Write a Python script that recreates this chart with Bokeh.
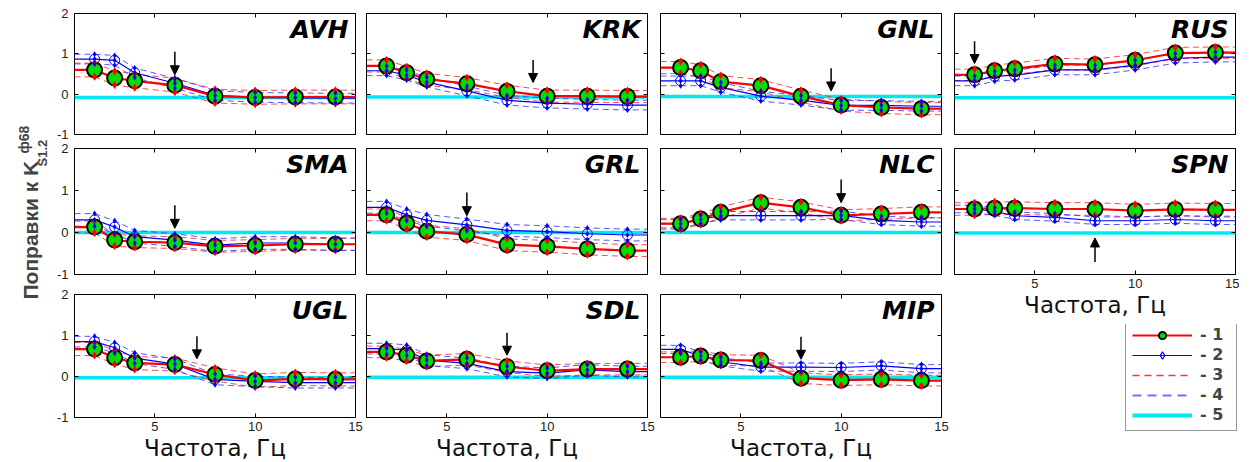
from math import pi
from bokeh.plotting import figure
from bokeh.layouts import row, column
from bokeh.models import (Range1d, FixedTicker, LinearAxis, Arrow, NormalHead,
                          Legend, LegendItem, Label, Span)
from bokeh.core.properties import value
from bokeh.embed import file_html
from bokeh.resources import INLINE

# ---------------- data ----------------
FREQ = [2, 3, 4, 6, 8, 10, 12, 14]
X_TICKS = [5, 10, 15]
X_TICK_LABELS = ["5", "10", "15"]
Y_TICKS = [-1, 0, 1, 2]
Y_TICK_LABELS = ["-1", "0", "1", "2"]
STATIONS = ["AVH", "KRK", "GNL", "RUS", "SMA", "GRL", "NLC", "SPN", "UGL", "SDL", "MIP"]

# series 1 (red line, green circles) and series 2 (blue line, open markers)
AVH_1 = [0.60, 0.40, 0.33, 0.22, -0.05, -0.08, -0.07, -0.07]
AVH_2 = [0.87, 0.84, 0.53, 0.27, -0.03, -0.08, -0.09, -0.10]
KRK_1 = [0.70, 0.53, 0.37, 0.26, 0.07, -0.05, -0.05, -0.06]
KRK_2 = [0.58, 0.47, 0.30, 0.08, -0.15, -0.22, -0.25, -0.27]
GNL_1 = [0.66, 0.58, 0.31, 0.21, -0.05, -0.27, -0.33, -0.36]
GNL_2 = [0.33, 0.33, 0.17, -0.05, -0.15, -0.28, -0.28, -0.30]
RUS_1 = [0.48, 0.58, 0.63, 0.75, 0.73, 0.84, 1.02, 1.03]
RUS_2 = [0.33, 0.44, 0.47, 0.60, 0.60, 0.72, 0.89, 0.92]
SMA_1 = [0.13, -0.18, -0.22, -0.24, -0.33, -0.31, -0.28, -0.28]
SMA_2 = [0.30, 0.13, -0.10, -0.18, -0.30, -0.25, -0.25, -0.28]
GRL_1 = [0.42, 0.22, 0.03, -0.05, -0.29, -0.33, -0.39, -0.43]
GRL_2 = [0.60, 0.42, 0.29, 0.18, 0.05, 0.02, -0.03, -0.06]
NLC_1 = [0.21, 0.32, 0.48, 0.71, 0.60, 0.41, 0.44, 0.48]
NLC_2 = [0.21, 0.31, 0.40, 0.40, 0.40, 0.41, 0.29, 0.25]
SPN_1 = [0.56, 0.58, 0.58, 0.56, 0.56, 0.52, 0.55, 0.54]
SPN_2 = [0.56, 0.50, 0.40, 0.36, 0.28, 0.28, 0.31, 0.28]
UGL_1 = [0.67, 0.46, 0.33, 0.29, 0.05, -0.10, -0.06, -0.07]
UGL_2 = [0.85, 0.70, 0.45, 0.30, -0.07, -0.12, -0.15, -0.15]
SDL_1 = [0.60, 0.52, 0.38, 0.42, 0.24, 0.14, 0.18, 0.18]
SDL_2 = [0.68, 0.64, 0.40, 0.32, 0.12, 0.08, 0.16, 0.12]
MIP_1 = [0.47, 0.50, 0.40, 0.39, -0.04, -0.09, -0.07, -0.10]
MIP_2 = [0.66, 0.50, 0.36, 0.23, 0.23, 0.22, 0.26, 0.19]

# half-widths of the dashed bands (3 = around series 1, 4 = around series 2)
ERR_1 = [0.17, 0.15, 0.15, 0.14, 0.14, 0.14, 0.13, 0.15, 0.16, 0.14, 0.13]
ERR_2 = [0.12, 0.12, 0.12, 0.12, 0.15, 0.14, 0.10, 0.09, 0.13, 0.13, 0.10]
# level of the cyan line (5)
LEVEL_5 = [-0.08, -0.07, -0.06, -0.09, 0.0, 0.0, 0.0, -0.01, -0.03, -0.02, -0.02]
# arrows: frequency, start value, end value
ARROW_X = [6, 9.3, 9.5, 2, 6, 6, 10, 8, 7.1, 8, 8]
ARROW_FROM = [1.05, 0.85, 0.64, 1.31, 0.65, 0.95, 1.26, -0.70, 0.98, 1.07, 0.97]
ARROW_TO = [0.48, 0.29, 0.08, 0.76, 0.10, 0.40, 0.71, -0.13, 0.43, 0.52, 0.42]

SERIES_1 = [AVH_1, KRK_1, GNL_1, RUS_1, SMA_1, GRL_1, NLC_1, SPN_1, UGL_1, SDL_1, MIP_1]
SERIES_2 = [AVH_2, KRK_2, GNL_2, RUS_2, SMA_2, GRL_2, NLC_2, SPN_2, UGL_2, SDL_2, MIP_2]

X_LABEL = "Частота, Гц"
LEGEND_LABELS = ["- 1", "- 2", "- 3", "- 4", "- 5"]

# ---------------- style / geometry ----------------
RED = "#ff0000"
BLUE = "#0000ff"
GREEN = "#00e000"
CYAN = "#00e8f0"
FRAME_W = 281
FRAME_H = [121, 126, 123]
B_TOP = [13, 7, 10]
B_BOT = [7, 10, 30]
B_LEFT = [22, 1, 1, 1]
B_RIGHT = [10, 12, 12, 4]
NAN = float("nan")


def add_axes(p, show_x, show_y):
    specs = [("below", True, show_x), ("above", True, False),
             ("left", False, show_y), ("right", False, False)]
    for loc, is_x, show in specs:
        ticks = X_TICKS if is_x else Y_TICKS
        labels = X_TICK_LABELS if is_x else Y_TICK_LABELS
        ax = LinearAxis(ticker=FixedTicker(ticks=ticks, minor_ticks=[]))
        ax.axis_line_color = None
        ax.major_tick_in = 4
        ax.major_tick_out = 0
        ax.major_tick_line_color = "black"
        ax.minor_tick_line_color = None
        if show:
            ax.major_label_overrides = {t: l for t, l in zip(ticks, labels)}
            ax.major_label_text_font = "Liberation Sans"
            ax.major_label_text_font_size = "13px"
            ax.major_label_text_color = "#222222"
            ax.major_label_standoff = 4 if is_x else 6
            if is_x:
                ax.axis_label = X_LABEL
                ax.axis_label_text_font = "DejaVu Sans"
                ax.axis_label_text_font_size = "23px"
                ax.axis_label_text_font_style = "normal"
                ax.axis_label_text_color = "#111111"
                ax.axis_label_standoff = 1
        else:
            ax.major_label_text_font_size = "0px"
            ax.major_label_text_color = None
            ax.major_label_standoff = 0
        p.add_layout(ax, loc)


def ext(v):
    return [v[0]] + list(v) + [v[-1]]


def make_panel(i):
    r, c = divmod(i, 4)
    name = STATIONS[i]
    s1 = SERIES_1[i]
    s2 = SERIES_2[i]
    e1 = ERR_1[i]
    e2 = ERR_2[i]
    show_x = (r == 2) or name == "SPN"
    bb = 50 if name == "SPN" else B_BOT[r]
    p = figure(frame_width=FRAME_W, frame_height=FRAME_H[r],
               x_range=Range1d(1, 15), y_range=Range1d(-1, 2),
               min_border_left=B_LEFT[c], min_border_right=B_RIGHT[c],
               min_border_top=B_TOP[r], min_border_bottom=bb,
               x_axis_location=None, y_axis_location=None,
               toolbar_location=None, output_backend="svg",
               background_fill_color="white", border_fill_color="white",
               outline_line_color="black", outline_line_width=1)
    p.grid.visible = False
    add_axes(p, show_x, c == 0)

    p.add_layout(Span(location=LEVEL_5[i], dimension="width", line_color=CYAN,
                      line_width=3.5, level="underlay"))

    xl = [1] + FREQ + [15]
    u1 = [v + e1 for v in s1]
    l1 = [v - e1 for v in s1]
    u2 = [v + e2 for v in s2]
    l2 = [v - e2 for v in s2]

    for band in (u1, l1):
        p.line(xl, ext(band), line_color="#ff2a2a", line_width=1, line_dash="6 4", line_alpha=0.85)
    for band in (u2, l2):
        p.line(xl, ext(band), line_color="#3a3aff", line_width=1, line_dash="6 4", line_alpha=0.85)

    p.line(xl, ext(s2), line_color=BLUE, line_width=1.2)
    p.scatter(FREQ, s2, marker="circle", size=10, fill_color=None,
              line_color=BLUE, line_width=1)
    p.line(xl, ext(s1), line_color=RED, line_width=2.2)
    p.scatter(FREQ, s1, marker="circle", size=15, fill_color=GREEN,
              line_color="black", line_width=2)
    p.scatter(FREQ + FREQ, u1 + l1, marker="diamond", size=8,
              fill_color=RED, line_color=None)
    p.scatter(FREQ + FREQ + FREQ, u2 + l2 + s2, marker="diamond", size=6,
              fill_color=BLUE, line_color=None)

    p.add_layout(Arrow(end=NormalHead(size=9, fill_color="black", line_color="black", line_width=1),
                       x_start=ARROW_X[i], y_start=ARROW_FROM[i],
                       x_end=ARROW_X[i], y_end=ARROW_TO[i],
                       line_color="black", line_width=1.5))

    p.add_layout(Label(x=15, y=2, x_offset=-7, y_offset=-1, text=name,
                       text_font="DejaVu Sans", text_font_style="bold italic",
                       text_font_size="25px", text_color="black",
                       text_align="right", text_baseline="top"))
    return p


panels = [make_panel(i) for i in range(len(STATIONS))]

# ---------------- legend panel ----------------
pl = figure(frame_width=B_LEFT[3] + FRAME_W + B_RIGHT[3], frame_height=128,
            x_range=Range1d(0, 1), y_range=Range1d(0, 1), min_border=0,
            x_axis_location=None, y_axis_location=None,
            toolbar_location=None, output_backend="svg",
            outline_line_color=None)
pl.grid.visible = False
lr1a = pl.line(x=[NAN], y=[NAN], line_color=RED, line_width=2.2)
lr1b = pl.scatter(x=[NAN], y=[NAN], marker="circle", size=15, fill_color=GREEN,
                  line_color="black", line_width=2)
lr2a = pl.line(x=[NAN], y=[NAN], line_color=BLUE, line_width=1.2)
lr2b = pl.scatter(x=[NAN], y=[NAN], marker="diamond", size=10, fill_color=None,
                  line_color=BLUE, line_width=1.2)
lr3 = pl.line(x=[NAN], y=[NAN], line_color="#ff3030", line_width=1.5, line_dash="7 5")
lr4 = pl.line(x=[NAN], y=[NAN], line_color="#7a6cff", line_width=2, line_dash="9 6")
lr5 = pl.line(x=[NAN], y=[NAN], line_color=CYAN, line_width=4)
legend = Legend(items=[
    LegendItem(label=value(LEGEND_LABELS[0]), renderers=[lr1a, lr1b]),
    LegendItem(label=value(LEGEND_LABELS[1]), renderers=[lr2a, lr2b]),
    LegendItem(label=value(LEGEND_LABELS[2]), renderers=[lr3]),
    LegendItem(label=value(LEGEND_LABELS[3]), renderers=[lr4]),
    LegendItem(label=value(LEGEND_LABELS[4]), renderers=[lr5]),
], location=(172, 21))
legend.border_line_color = "#333333"
legend.border_line_width = 1.5
legend.background_fill_color = "white"
legend.padding = 6
legend.spacing = 1
legend.margin = 0
legend.glyph_width = 60
legend.glyph_height = 18
legend.label_height = 18
legend.label_width = 30
legend.label_standoff = 8
legend.label_text_font = "DejaVu Sans"
legend.label_text_font_style = "bold"
legend.label_text_font_size = "16px"
pl.add_layout(legend)

# ---------------- y label panel ----------------
py = figure(frame_width=52, frame_height=320, x_range=Range1d(0, 52),
            y_range=Range1d(320, 0), min_border=0,
            x_axis_location=None, y_axis_location=None,
            toolbar_location=None, output_backend="svg",
            outline_line_color=None)
py.grid.visible = False
py.add_layout(Label(x=30, y=299, text="Поправки к K", angle=pi / 2,
                    text_font="Liberation Sans", text_font_style="bold",
                    text_font_size="21px", text_align="left", text_baseline="middle"))
py.add_layout(Label(x=42, y=166, text="S1.2", angle=pi / 2,
                    text_font="Liberation Sans", text_font_style="bold",
                    text_font_size="13px", text_align="left", text_baseline="middle"))
py.add_layout(Label(x=23, y=153, text="ф68", angle=pi / 2,
                    text_font="Liberation Sans", text_font_style="bold",
                    text_font_size="14px", text_align="left", text_baseline="middle"))

cols = [column(panels[0], panels[4], panels[8]),
        column(panels[1], panels[5], panels[9]),
        column(panels[2], panels[6], panels[10]),
        column(panels[3], panels[7], pl)]
layout = row(py, *cols)

open("out.html", "w").write(file_html(layout, INLINE))
